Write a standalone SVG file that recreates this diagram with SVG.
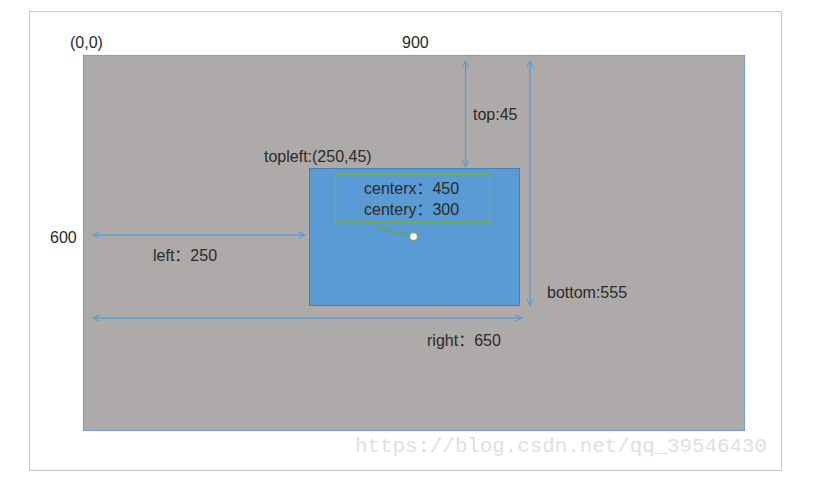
<svg xmlns="http://www.w3.org/2000/svg" width="827" height="484" viewBox="0 0 827 484">
<style>
text{font-family:"Liberation Sans","Noto Sans CJK SC",Arial,sans-serif;font-size:16px;fill:#2a2a2a}
.arr{stroke:#5b9bd5;stroke-width:1.3;fill:none}
.wm{font-family:"Liberation Mono","DejaVu Sans Mono",monospace;font-size:21px;fill:#e0e0e0}
</style>
<defs>
<marker id="ah" viewBox="0 0 10 10" refX="9" refY="5" markerWidth="8" markerHeight="8" orient="auto-start-reverse" markerUnits="userSpaceOnUse">
<path d="M1,1 L9,5 L1,9" fill="none" stroke="#5b9bd5" stroke-width="1.3"/>
</marker>
</defs>
<rect width="827" height="484" fill="#ffffff"/>
<rect x="29.5" y="11.5" width="752" height="459" fill="#ffffff" stroke="#c8c8c8" stroke-width="1"/>
<g id="canvas">
<rect x="83.5" y="55.5" width="661" height="375" fill="#aeaaa9" stroke="#7f9fc8" stroke-width="1.2"/>
<text x="70" y="48">(0,0)</text>
<text x="402" y="48">900</text>
<text x="50" y="243">600</text>
</g>
<g id="rect">
<rect x="309.5" y="168.5" width="210" height="137" fill="#5b9bd5" stroke="#4a7eb5" stroke-width="1"/>
<text x="264" y="162">topleft:(250,45)</text>
</g>
<g id="center">
<rect x="335.5" y="174.5" width="154" height="48" fill="none" stroke="#74b04c" stroke-width="1.2"/>
<text x="364" y="194">centerx：450</text>
<text x="364" y="215">centery：300</text>
<line x1="378" y1="228" x2="411" y2="236" stroke="#6aa544" stroke-width="1.3"/>
<circle cx="413.5" cy="236.5" r="4" fill="#ffffff" stroke="#74b04c" stroke-width="1.3"/>
</g>
<g id="connectors">
<line class="arr" x1="93" y1="235" x2="305" y2="235" marker-start="url(#ah)" marker-end="url(#ah)"/>
<line class="arr" x1="93" y1="318" x2="522" y2="318" marker-start="url(#ah)" marker-end="url(#ah)"/>
<line class="arr" x1="465.5" y1="61" x2="465.5" y2="167" marker-start="url(#ah)" marker-end="url(#ah)"/>
<line class="arr" x1="530" y1="61" x2="530" y2="306" marker-start="url(#ah)" marker-end="url(#ah)"/>
</g>
<g id="labels">
<text x="473" y="120">top:45</text>
<text x="547" y="298">bottom:555</text>
<text x="153" y="261">left：250</text>
<text x="427" y="346">right：650</text>
</g>
<text class="wm" x="355" y="452" textLength="412" lengthAdjust="spacingAndGlyphs">https://blog.csdn.net/qq_39546430</text>
</svg>
